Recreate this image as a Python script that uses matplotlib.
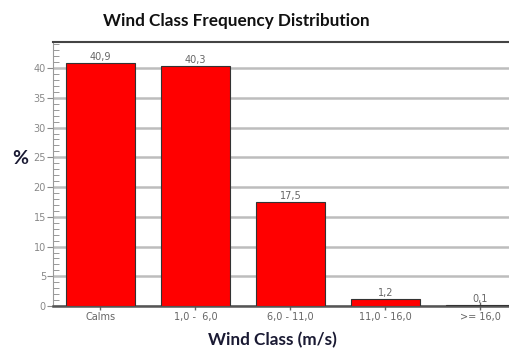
import numpy as np
import matplotlib
matplotlib.use("Agg")
import matplotlib.pyplot as plt
from matplotlib.ticker import MultipleLocator

classes = ["Calms", "1,0 -  6,0", "6,0 - 11,0", "11,0 - 16,0", ">= 16,0"]
freq = [40.9, 40.3, 17.5, 1.2, 0.1]
freq_labels = ["40,9", "40,3", "17,5", "1,2", "0,1"]

fig = plt.figure(figsize=(5.09, 3.49), dpi=100)
ax = fig.add_axes([0.104, 0.123, 0.896, 0.757])

x = np.arange(len(classes))
ax.bar(x, freq, width=0.72, color="#ff0000", edgecolor="#333333", linewidth=0.8, zorder=3)

for xi, v, lab in zip(x, freq, freq_labels):
    ax.text(xi, v + 0.2, lab, ha="center", va="bottom", fontsize=7, color="#666666")

ax.set_xlim(-0.5, 4.3)
ax.set_ylim(0, 44.4)
ax.yaxis.set_major_locator(MultipleLocator(5))
ax.yaxis.set_minor_locator(MultipleLocator(1))
ax.grid(axis="y", color="#bdbdbd", linewidth=1.8, zorder=0)
ax.set_xticks(x)
ax.set_xticklabels(classes)
ax.tick_params(axis="x", direction="inout", length=6, width=1, colors="#666666", labelsize=7, pad=1)
ax.tick_params(axis="y", which="major", direction="out", length=4, colors="#888888", labelsize=7, pad=1)
ax.tick_params(axis="y", which="minor", direction="in", length=4, color="#888888")

ax.spines["right"].set_visible(False)
ax.spines["top"].set_color("#444444")
ax.spines["top"].set_linewidth(1.5)
ax.spines["left"].set_color("#999999")
ax.spines["bottom"].set_color("#555555")
ax.spines["bottom"].set_linewidth(1.8)

fig.text(0.464, 0.94, "Wind Class Frequency Distribution", ha="center", va="center",
         fontsize=12.3, fontweight="bold", color="#111111", family="Lato")
fig.text(0.535, 0.026, "Wind Class (m/s)", ha="center", va="center",
         fontsize=12.3, fontweight="bold", color="#1a1a33", family="Lato")
fig.text(0.039, 0.545, "%", ha="center", va="center",
         fontsize=14, fontweight="bold", color="#1a1a33", family="Lato")

fig.savefig("out.png", dpi=100)
